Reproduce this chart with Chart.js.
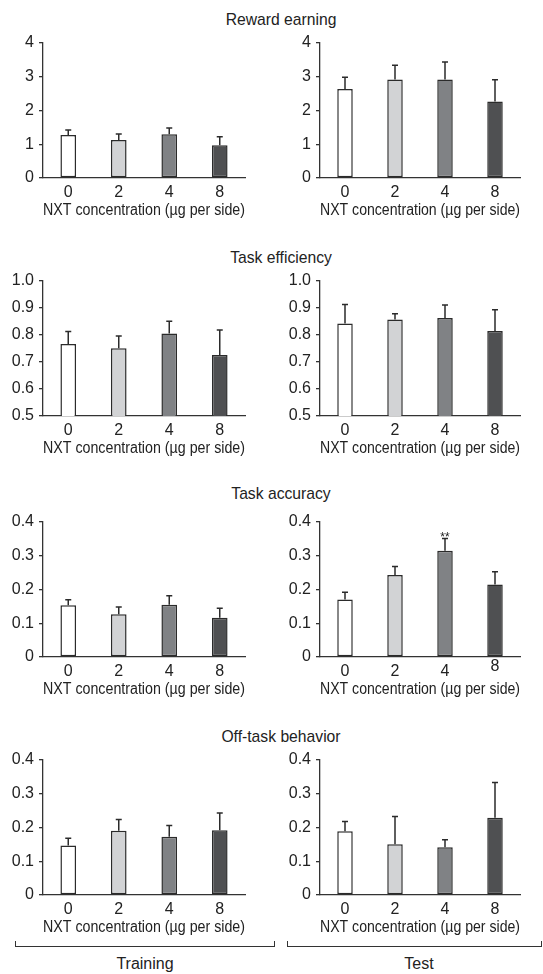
<!DOCTYPE html>
<html>
<head>
<meta charset="utf-8">
<script src="https://cdn.jsdelivr.net/npm/chart.js@4"></script>
<style>
  body { margin: 0; background: #fff; }
  #page { position: relative; width: 543px; height: 974px; font-family: "Liberation Sans", Arial, Helvetica, sans-serif; color: #222; }
  canvas { position: absolute; }
  .title { position: absolute; width: 240px; text-align: center; font-size: 15.7px; line-height: 18px; }
  .bracket { position: absolute; height: 6px; border: 1.2px solid #333; border-top: none; box-sizing: border-box; }
  .group { position: absolute; width: 200px; text-align: center; font-size: 16px; line-height: 19px; }
</style>
</head>
<body>
<div id="page">
  <div class="title" style="left:161px; top:11px;">Reward earning</div>
  <div class="title" style="left:161px; top:249px;">Task efficiency</div>
  <div class="title" style="left:161px; top:485px;">Task accuracy</div>
  <div class="title" style="left:161px; top:728px;">Off-task behavior</div>

  <canvas id="rewardTrain"></canvas>
  <canvas id="rewardTest"></canvas>
  <canvas id="efficiencyTrain"></canvas>
  <canvas id="efficiencyTest"></canvas>
  <canvas id="accuracyTrain"></canvas>
  <canvas id="accuracyTest"></canvas>
  <canvas id="offTaskTrain"></canvas>
  <canvas id="offTaskTest"></canvas>

  <div class="bracket" style="left:15px; top:941px; width:260px;"></div>
  <div class="bracket" style="left:287px; top:941px; width:255px;"></div>
  <div class="group" style="left:45px; top:954px;">Training</div>
  <div class="group" style="left:319px; top:954px;">Test</div>
</div>

<script>
// NXT dose groups (µg per side)
const categories = ['0', '2', '4', '8'];
const barColors = ['#ffffff', '#d2d3d5', '#808285', '#4f5052'];

// Reward earning (mean, SEM)
const rewardTrainMean = [1.27, 1.12, 1.29, 0.97];
const rewardTrainSem = [0.15, 0.18, 0.19, 0.25];
const rewardTestMean = [2.63, 2.91, 2.91, 2.26];
const rewardTestSem = [0.35, 0.42, 0.52, 0.64];

// Task efficiency
const efficiencyTrainMean = [0.766, 0.750, 0.805, 0.725];
const efficiencyTrainSem = [0.046, 0.045, 0.045, 0.093];
const efficiencyTestMean = [0.842, 0.856, 0.862, 0.814];
const efficiencyTestSem = [0.070, 0.022, 0.048, 0.078];

// Task accuracy
const accuracyTrainMean = [0.153, 0.126, 0.154, 0.116];
const accuracyTrainSem = [0.016, 0.022, 0.027, 0.028];
const accuracyTestMean = [0.170, 0.242, 0.314, 0.214];
const accuracyTestSem = [0.021, 0.025, 0.036, 0.038];
const accuracyTestMarks = ['', '', '**', ''];

// Off-task behavior
const offTaskTrainMean = [0.146, 0.190, 0.172, 0.191];
const offTaskTrainSem = [0.022, 0.033, 0.033, 0.051];
const offTaskTestMean = [0.188, 0.150, 0.141, 0.228];
const offTaskTestSem = [0.029, 0.082, 0.022, 0.104];

const FONT = '"Liberation Sans", Arial, Helvetica, sans-serif';
const INK = '#2b2b2b';
const TICK_SIZE = 16;

// row tops of the plot areas, canvas placement per column
const rowTops = [38, 276, 517, 755];
const colLefts = [0, 277];
const colPadRight = [17, 19];  // plot right edges at 245 and 520
const CANVAS_W = 262;

function fmtFraction(v) {
    return v === 0 ? '0' : v.toFixed(1);
}

// draws the upper half error bars (and significance marks) from the data
function errorBarPlugin(mean, sem, marks) {
    return {
        id: 'errorBars',
        afterDatasetsDraw(chart) {
            const ctx = chart.ctx;
            const y = chart.scales.y;
            const bars = chart.getDatasetMeta(0).data;
            ctx.save();
            ctx.strokeStyle = INK;
            ctx.lineWidth = 1.5;
            bars.forEach((bar, i) => {
                const yBase = y.getPixelForValue(mean[i]);
                const yTop = y.getPixelForValue(mean[i] + sem[i]);
                ctx.beginPath();
                ctx.moveTo(bar.x, yBase);
                ctx.lineTo(bar.x, yTop);
                ctx.moveTo(bar.x - 3, yTop);
                ctx.lineTo(bar.x + 3, yTop);
                ctx.stroke();
                if (marks && marks[i]) {
                    ctx.fillStyle = '#222';
                    ctx.font = '12px ' + FONT;
                    ctx.textAlign = 'center';
                    ctx.textBaseline = 'alphabetic';
                    ctx.fillText(marks[i], bar.x, yTop + 2);
                }
            });
            ctx.restore();
        }
    };
}

function makePanel(id, row, col, mean, sem, yOpts, marks, liftLast) {
    const canvas = document.getElementById(id);
    canvas.width = CANVAS_W;
    canvas.height = 192;
    canvas.style.left = colLefts[col] + 'px';
    canvas.style.top = (rowTops[row] - 10) + 'px';

    new Chart(canvas, {
        type: 'bar',
        data: {
            labels: categories,
            datasets: [{
                data: mean,
                backgroundColor: barColors,
                borderColor: INK,
                borderWidth: 1.5,
                borderSkipped: false,
                categoryPercentage: 1,
                barPercentage: 0.31
            }]
        },
        options: {
            responsive: false,
            animation: false,
            devicePixelRatio: 1,
            layout: { padding: { top: 10, right: colPadRight[col], bottom: 0, left: 0 } },
            plugins: { legend: { display: false }, tooltip: { enabled: false } },
            scales: {
                x: {
                    grid: { display: false, drawTicks: false },
                    border: { display: true, color: '#333', width: 1.3 },
                    ticks: {
                        color: '#222',
                        padding: 5,
                        font: (c) => ({
                            family: FONT, size: TICK_SIZE,
                            lineHeight: (liftLast && c.index === 3) ? (19.2 - 2 * liftLast) / TICK_SIZE : 1.2
                        })
                    },
                    title: {
                        display: true,
                        text: 'NXT concentration (µg per side)',
                        color: '#222',
                        font: { family: FONT, size: 16 },
                        padding: 0
                    },
                    afterFit: (s) => { s.height = 42; }
                },
                y: {
                    min: yOpts.min,
                    max: yOpts.max,
                    grid: { display: true, drawOnChartArea: false, drawTicks: true, tickLength: 4, color: '#333', lineWidth: 1.3 },
                    border: { display: true, color: '#333', width: 1.3 },
                    ticks: {
                        stepSize: yOpts.step,
                        color: '#222',
                        padding: 5,
                        font: { family: FONT, size: TICK_SIZE },
                        callback: yOpts.format
                    },
                    afterFit: (s) => { s.width = 43; }
                }
            }
        },
        plugins: [errorBarPlugin(mean, sem, marks)]
    });
}

const rewardAxis = { min: 0, max: 4, step: 1, format: (v) => String(v) };
const efficiencyAxis = { min: 0.5, max: 1.0, step: 0.1, format: (v) => v.toFixed(1) };
const fractionAxis = { min: 0, max: 0.4, step: 0.1, format: fmtFraction };

makePanel('rewardTrain', 0, 0, rewardTrainMean, rewardTrainSem, rewardAxis);
makePanel('rewardTest', 0, 1, rewardTestMean, rewardTestSem, rewardAxis);
makePanel('efficiencyTrain', 1, 0, efficiencyTrainMean, efficiencyTrainSem, efficiencyAxis);
makePanel('efficiencyTest', 1, 1, efficiencyTestMean, efficiencyTestSem, efficiencyAxis);
makePanel('accuracyTrain', 2, 0, accuracyTrainMean, accuracyTrainSem, fractionAxis);
makePanel('accuracyTest', 2, 1, accuracyTestMean, accuracyTestSem, fractionAxis, accuracyTestMarks, 5);
makePanel('offTaskTrain', 3, 0, offTaskTrainMean, offTaskTrainSem, fractionAxis);
makePanel('offTaskTest', 3, 1, offTaskTestMean, offTaskTestSem, fractionAxis);
</script>
</body>
</html>
